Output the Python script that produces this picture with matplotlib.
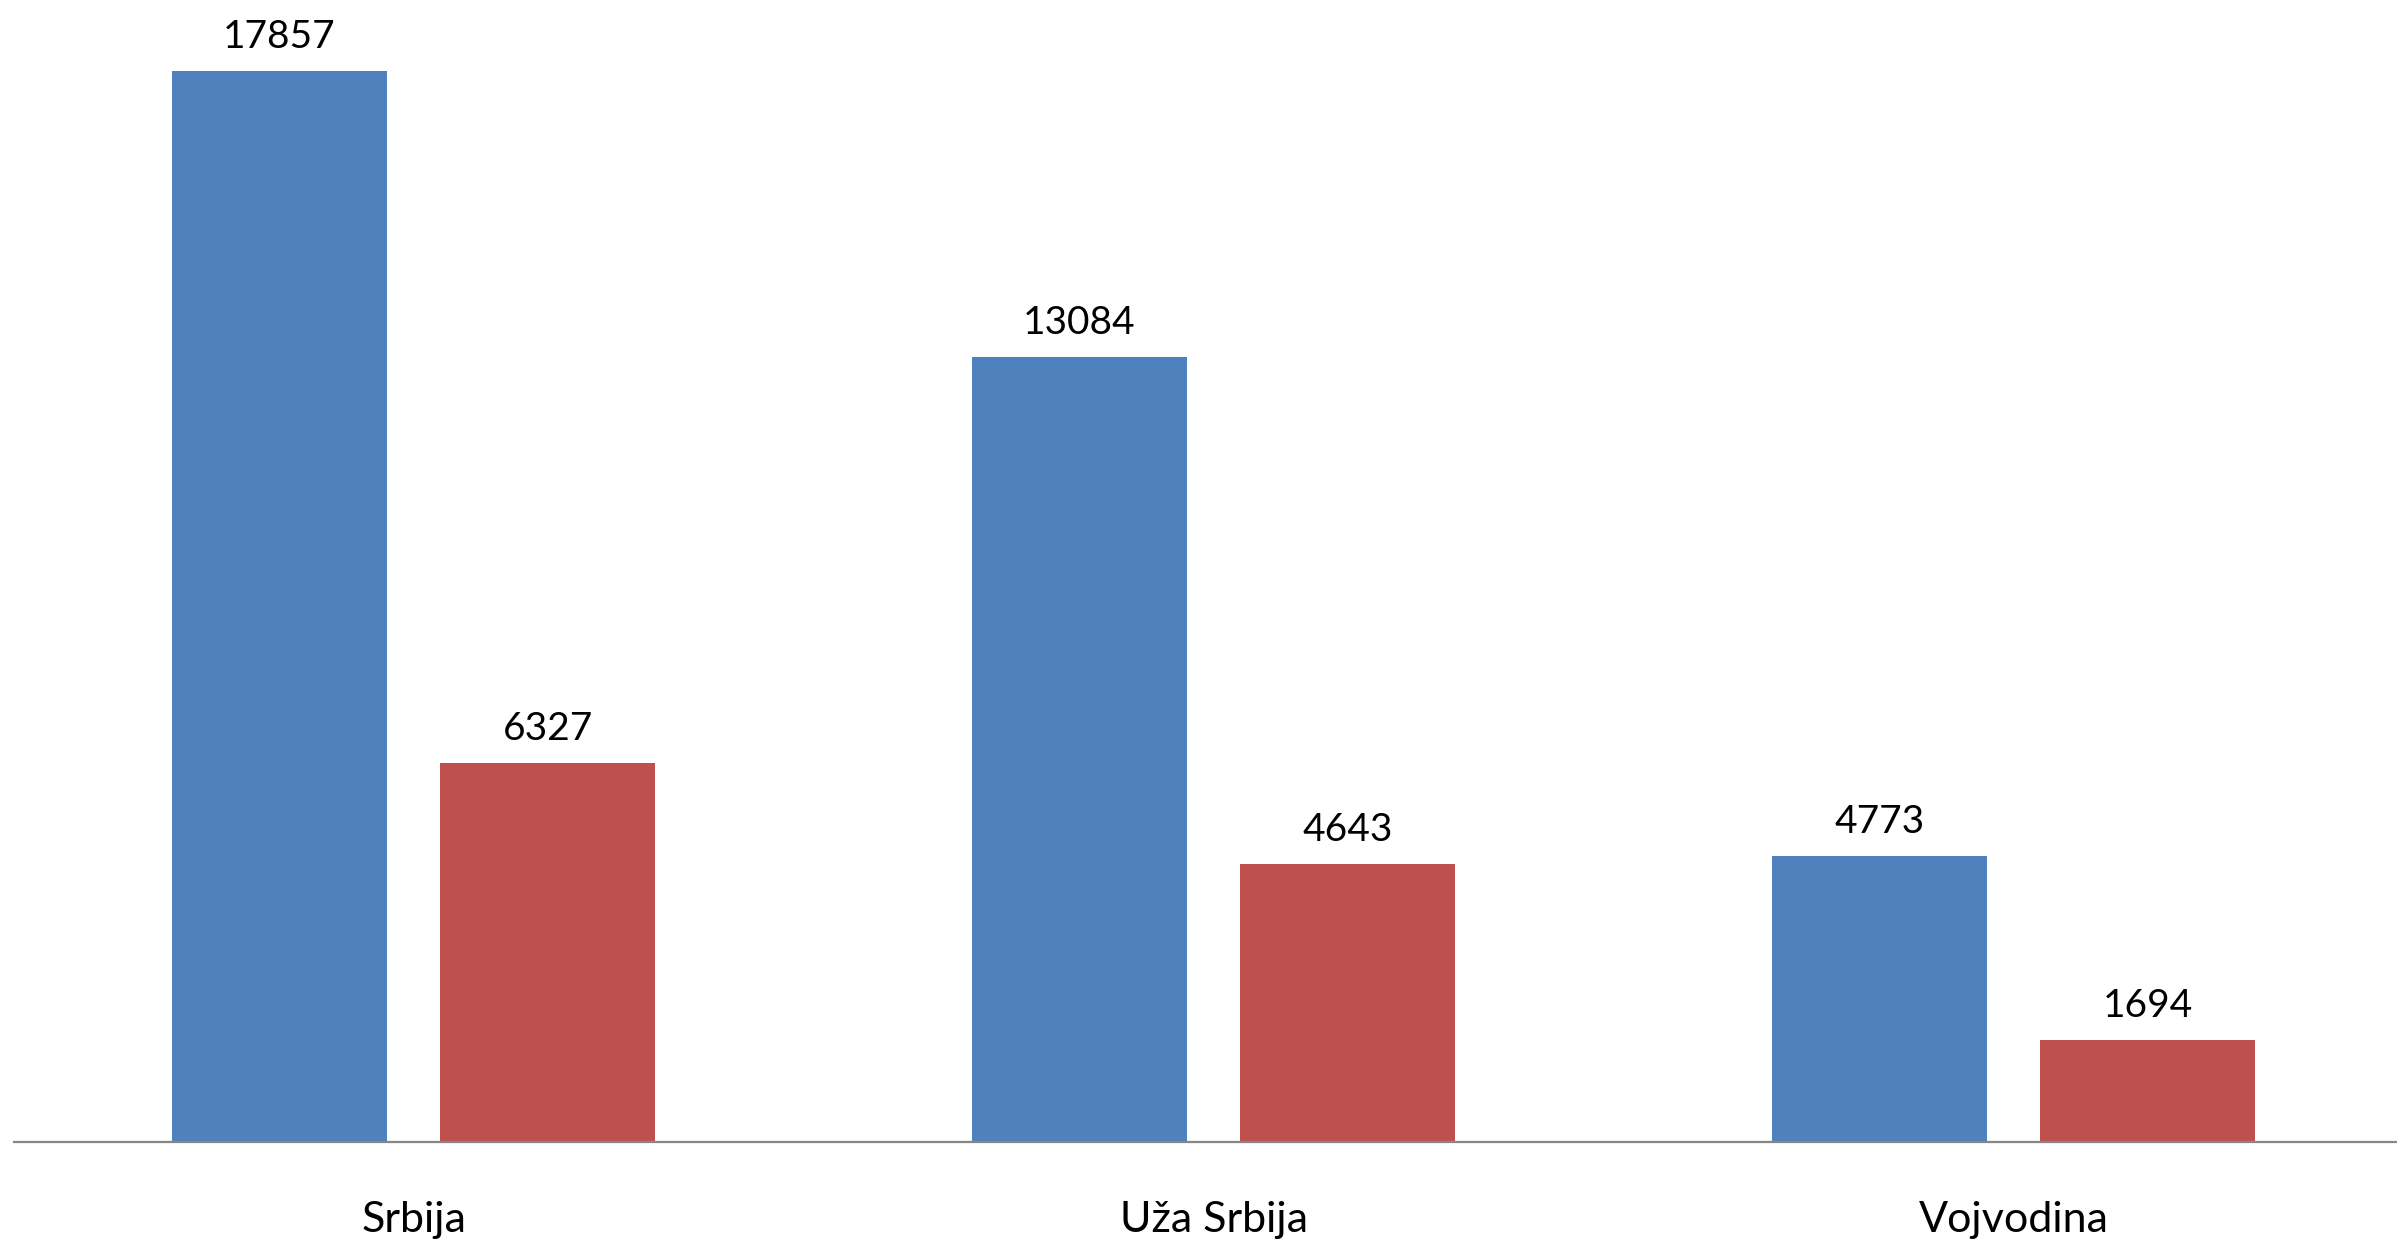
import matplotlib
matplotlib.use("Agg")
import matplotlib.pyplot as plt
import numpy as np

categories = ["Srbija", "Uža Srbija", "Vojvodina"]
series_a = [17857, 13084, 4773]
series_b = [6327, 4643, 1694]

plt.rcParams['font.family'] = ['Lato', 'DejaVu Sans']

W, H, DPI = 2397, 1240, 100
fig = plt.figure(figsize=(W / DPI, H / DPI), dpi=DPI)

# plot area in pixels (the right end runs just past the canvas edge)
left_px, right_px = 13.5, 2413.5
base_px = 1142
ymax = 19000
px_per_unit = 1071 / 17857
height_px = ymax * px_per_unit
ax = fig.add_axes([left_px / W, (H - base_px) / H,
                   (right_px - left_px) / W, height_px / H])

x = np.arange(len(categories))
width = 0.268
offset = 0.1675
blue = "#4F81BD"
red = "#C0504D"

bars_a = ax.bar(x - offset, series_a, width, color=blue)
bars_b = ax.bar(x + offset, series_b, width, color=red)

ax.set_xlim(-0.5, len(categories) - 0.5)
ax.set_ylim(0, ymax)

for s in ["top", "right", "left"]:
    ax.spines[s].set_visible(False)
ax.spines["bottom"].set_color("#868686")
ax.spines["bottom"].set_linewidth(1.6)
ax.set_yticks([])
ax.set_xticks([])

pt = 72 / DPI
for bars, vals in ((bars_a, series_a), (bars_b, series_b)):
    for b, v in zip(bars, vals):
        ax.annotate(str(v), xy=(b.get_x() + b.get_width() / 2, v),
                    xytext=(0, 23 * pt), textcoords="offset points",
                    ha="center", va="baseline", fontsize=28, color="black")

for i, c in enumerate(categories):
    ax.annotate(c, xy=(i, 0), xytext=(0, -90 * pt), textcoords="offset points",
                ha="center", va="baseline", fontsize=31, color="black",
                annotation_clip=False)

fig.savefig("out.png", dpi=DPI)
